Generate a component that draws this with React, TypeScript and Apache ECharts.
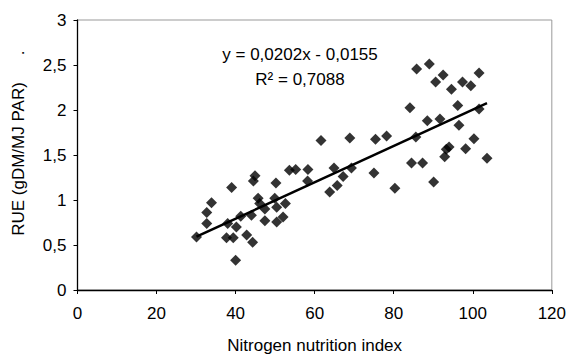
import React, { useEffect, useRef } from "react";
import * as echarts from "echarts";

// Nitrogen nutrition index (x) and RUE (y)
const nniValues: number[] = [
  30.1, 32.7, 32.7, 33.9, 37.7, 39.4, 40.0, 40.2, 38.0, 41.3, 39.0, 42.8, 44.3, 44.0,
  44.9, 44.5, 45.7, 46.1, 47.4, 47.4, 49.9, 50.2, 50.4, 50.4, 52.0, 52.6, 53.6, 55.2,
  58.3, 58.2, 61.6, 63.8, 64.9, 65.7, 67.2, 68.9, 69.3, 75.0, 75.4, 78.2, 80.3, 84.1,
  84.5, 85.6, 85.8, 87.3, 88.5, 89.0, 90.1, 90.6, 91.7, 92.5, 92.9, 93.3, 94.0, 94.6,
  96.2, 96.5, 97.4, 98.2, 99.5, 100.3, 101.6, 101.6, 103.6,
];
const rueValues: number[] = [
  0.59, 0.74, 0.86, 0.97, 0.58, 0.58, 0.33, 0.70, 0.74, 0.82, 1.14, 0.61, 0.53, 0.83,
  1.27, 1.21, 1.02, 0.96, 0.90, 0.77, 1.02, 1.19, 0.92, 0.755, 0.81, 0.96, 1.33, 1.34,
  1.34, 1.21, 1.66, 1.09, 1.355, 1.16, 1.26, 1.69, 1.355, 1.30, 1.675, 1.71, 1.13, 2.025,
  1.41, 1.70, 2.455, 1.41, 1.88, 2.51, 1.20, 2.31, 1.90, 2.39, 1.48, 1.565, 1.59, 2.23,
  2.05, 1.83, 2.31, 1.57, 2.27, 1.68, 2.01, 2.41, 1.465,
];

// Linear trendline endpoints (y = 0,0202x - 0,0155)
const trendX: number[] = [30.1, 103.6];
const trendY: number[] = [0.5925, 2.0772];

const xTicks = { min: 0, max: 120, interval: 20 };
const yTicks = { min: 0, max: 3, interval: 0.5 };

const equationText = "y = 0,0202x - 0,0155";
const r2Text = "R² = 0,7088";

const FONT = "Liberation Sans, Arial, sans-serif";
const FS = 17;

export default function App() {
  const ref = useRef<HTMLDivElement>(null);

  useEffect(() => {
    document.body.style.margin = "0";
    if (!ref.current) return;
    const chart = echarts.init(ref.current, undefined, { renderer: "svg" });
    const points = nniValues.map((x, i) => [x, rueValues[i]]);
    const trend = trendX.map((x, i) => [x, trendY[i]]);
    const fmt = (v: number) => String(v).replace(".", ",");

    chart.setOption({
      animation: false,
      backgroundColor: "#fff",
      textStyle: { fontFamily: FONT },
      grid: {
        left: 77.5,
        right: 17,
        top: 20,
        bottom: 67.3,
        show: true,
        borderColor: "#999",
        borderWidth: 1,
        backgroundColor: "transparent",
      },
      xAxis: {
        type: "value",
        min: xTicks.min,
        max: xTicks.max,
        interval: xTicks.interval,
        name: "Nitrogen nutrition index",
        nameLocation: "middle",
        nameGap: 47,
        nameTextStyle: { fontSize: FS, color: "#000", fontFamily: FONT },
        axisLine: { show: true, onZero: false, lineStyle: { color: "#000", width: 1.3 } },
        axisTick: { show: true, inside: false, length: 4, lineStyle: { color: "#000" } },
        axisLabel: { fontSize: FS, color: "#000", margin: 15, fontFamily: FONT },
        splitLine: { show: false },
      },
      yAxis: {
        type: "value",
        min: yTicks.min,
        max: yTicks.max,
        interval: yTicks.interval,
        name: "RUE (gDM/MJ PAR)",
        nameLocation: "middle",
        nameGap: 51,
        nameTextStyle: { fontSize: FS, color: "#000", fontFamily: FONT, padding: [0, 8, 0, 0] },
        axisLine: { show: true, onZero: false, lineStyle: { color: "#000", width: 1.3 } },
        axisTick: { show: true, inside: false, length: 4, lineStyle: { color: "#000" } },
        axisLabel: { fontSize: FS, color: "#000", margin: 11, fontFamily: FONT, formatter: fmt },
        splitLine: { show: false },
      },
      graphic: [
        {
          type: "text",
          x: 300,
          y: 54,
          style: {
            text: equationText,
            fontSize: FS,
            fontFamily: FONT,
            fill: "#000",
            textAlign: "center",
            textVerticalAlign: "middle",
          },
        },
        {
          type: "text",
          x: 300,
          y: 79,
          style: {
            text: r2Text,
            fontSize: FS,
            fontFamily: FONT,
            fill: "#000",
            textAlign: "center",
            textVerticalAlign: "middle",
          },
        },
        {
          type: "text",
          x: 18,
          y: 53,
          rotation: Math.PI / 2,
          style: {
            text: ".",
            fontSize: FS,
            fontFamily: FONT,
            fill: "#000",
            textAlign: "center",
            textVerticalAlign: "middle",
          },
        },
      ],
      series: [
        {
          type: "scatter",
          data: points,
          symbol: "diamond",
          symbolSize: 11,
          itemStyle: { color: "#000" },
          z: 3,
        },
        {
          type: "line",
          data: trend,
          symbol: "none",
          lineStyle: { color: "#000", width: 2.5 },
          z: 4,
        },
      ],
    });
    return () => chart.dispose();
  }, []);

  return (
    <div
      ref={ref}
      style={{ position: "fixed", left: 0, top: 0, width: 569, height: 359 }}
    />
  );
}
